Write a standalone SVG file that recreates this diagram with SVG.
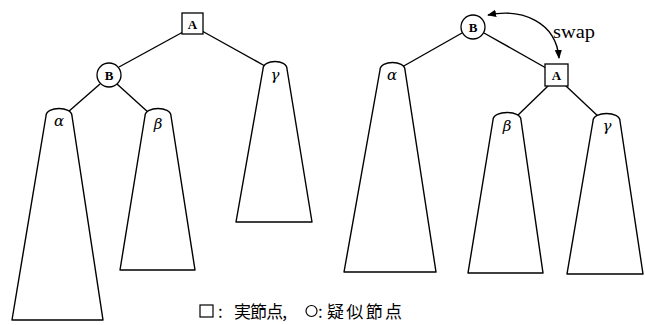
<svg xmlns="http://www.w3.org/2000/svg" width="645" height="325" viewBox="0 0 645 325">
<style>
.ln{stroke:#000;stroke-width:1.4;fill:none}
.tr{stroke:#000;stroke-width:1.4;fill:#fff;stroke-linejoin:round}
.nd{stroke:#000;stroke-width:1.3;fill:#fff}
.lb{font-family:"Liberation Serif",serif;font-weight:bold;font-size:13px;text-anchor:middle}
.gr{font-family:"DejaVu Serif","Liberation Serif",serif;font-style:italic;font-size:15px;text-anchor:middle}
.sw{font-family:"Liberation Serif",serif;font-size:18px}
.lg{font-family:"Noto Sans CJK JP",sans-serif;font-size:17px}
</style>
<defs>
<marker id="ah" viewBox="0 0 10 10" refX="9" refY="5" markerWidth="9" markerHeight="9" markerUnits="userSpaceOnUse" orient="auto-start-reverse">
<path d="M0 1 L10 5 L0 9 Z" fill="#000"/>
</marker>
</defs>
<g id="connectors">
<line class="ln" x1="183" y1="32" x2="119" y2="67"/>
<line class="ln" x1="202" y1="31" x2="265" y2="66"/>
<line class="ln" x1="100" y1="84" x2="68" y2="112"/>
<line class="ln" x1="117" y1="84" x2="149" y2="113"/>
<line class="ln" x1="462" y1="33" x2="402" y2="67"/>
<line class="ln" x1="484" y1="33" x2="546" y2="68"/>
<line class="ln" x1="548" y1="86" x2="516" y2="117"/>
<line class="ln" x1="566" y1="86" x2="600" y2="118"/>
<path class="ln" d="M488 15 C522 8 556 22 559 58" marker-start="url(#ah)" marker-end="url(#ah)"/>
</g>
<g id="tree-alpha-left">
<path class="tr" d="M12 320 L46 116 C46 106 72 106 72 116 L103 320 Z"/>
<text class="gr" x="59" y="126">α</text>
</g>
<g id="tree-beta-left">
<path class="tr" d="M120 270 L145 116 C145 106 171 106 171 116 L195 270 Z"/>
<text class="gr" x="158" y="129">β</text>
</g>
<g id="tree-gamma-left">
<path class="tr" d="M236 222 L263 69 C263 59 287 59 287 69 L312 222 Z"/>
<text class="gr" x="275" y="80">γ</text>
</g>
<g id="node-A-left">
<rect class="nd" x="182" y="13" width="21" height="21"/>
<text class="lb" x="192.5" y="28.5">A</text>
</g>
<g id="node-B-left">
<circle class="nd" cx="109" cy="75" r="12"/>
<text class="lb" x="109" y="79.5">B</text>
</g>
<g id="tree-alpha-right">
<path class="tr" d="M344 272 L380 70 C380 60 405 60 405 70 L436 272 Z"/>
<text class="gr" x="392" y="80">α</text>
</g>
<g id="tree-beta-right">
<path class="tr" d="M468 273 L493 120 C493 110 521 110 521 120 L543 273 Z"/>
<text class="gr" x="507" y="131">β</text>
</g>
<g id="tree-gamma-right">
<path class="tr" d="M567 274 L593 121 C593 111 620 111 620 121 L643 274 Z"/>
<text class="gr" x="607" y="131">γ</text>
</g>
<g id="node-B-right">
<circle class="nd" cx="473" cy="27" r="12"/>
<text class="lb" x="473" y="31.5">B</text>
</g>
<g id="node-A-right">
<rect class="nd" x="545" y="64" width="23" height="22"/>
<text class="lb" x="556.5" y="80">A</text>
</g>
<text class="sw" x="553" y="38" textLength="42" lengthAdjust="spacingAndGlyphs">swap</text>
<g id="legend">
<rect x="200" y="305" width="13" height="12" fill="none" stroke="#000" stroke-width="1.2"/>
<text class="lg" x="218" y="318">:</text>
<text class="lg" x="234" y="318" textLength="53">実節点,</text>
<circle cx="311.5" cy="311" r="5.5" fill="none" stroke="#000" stroke-width="1.2"/>
<text class="lg" x="318" y="318">:</text>
<text class="lg" x="327" y="318" textLength="75">疑似節点</text>
</g>
</svg>
